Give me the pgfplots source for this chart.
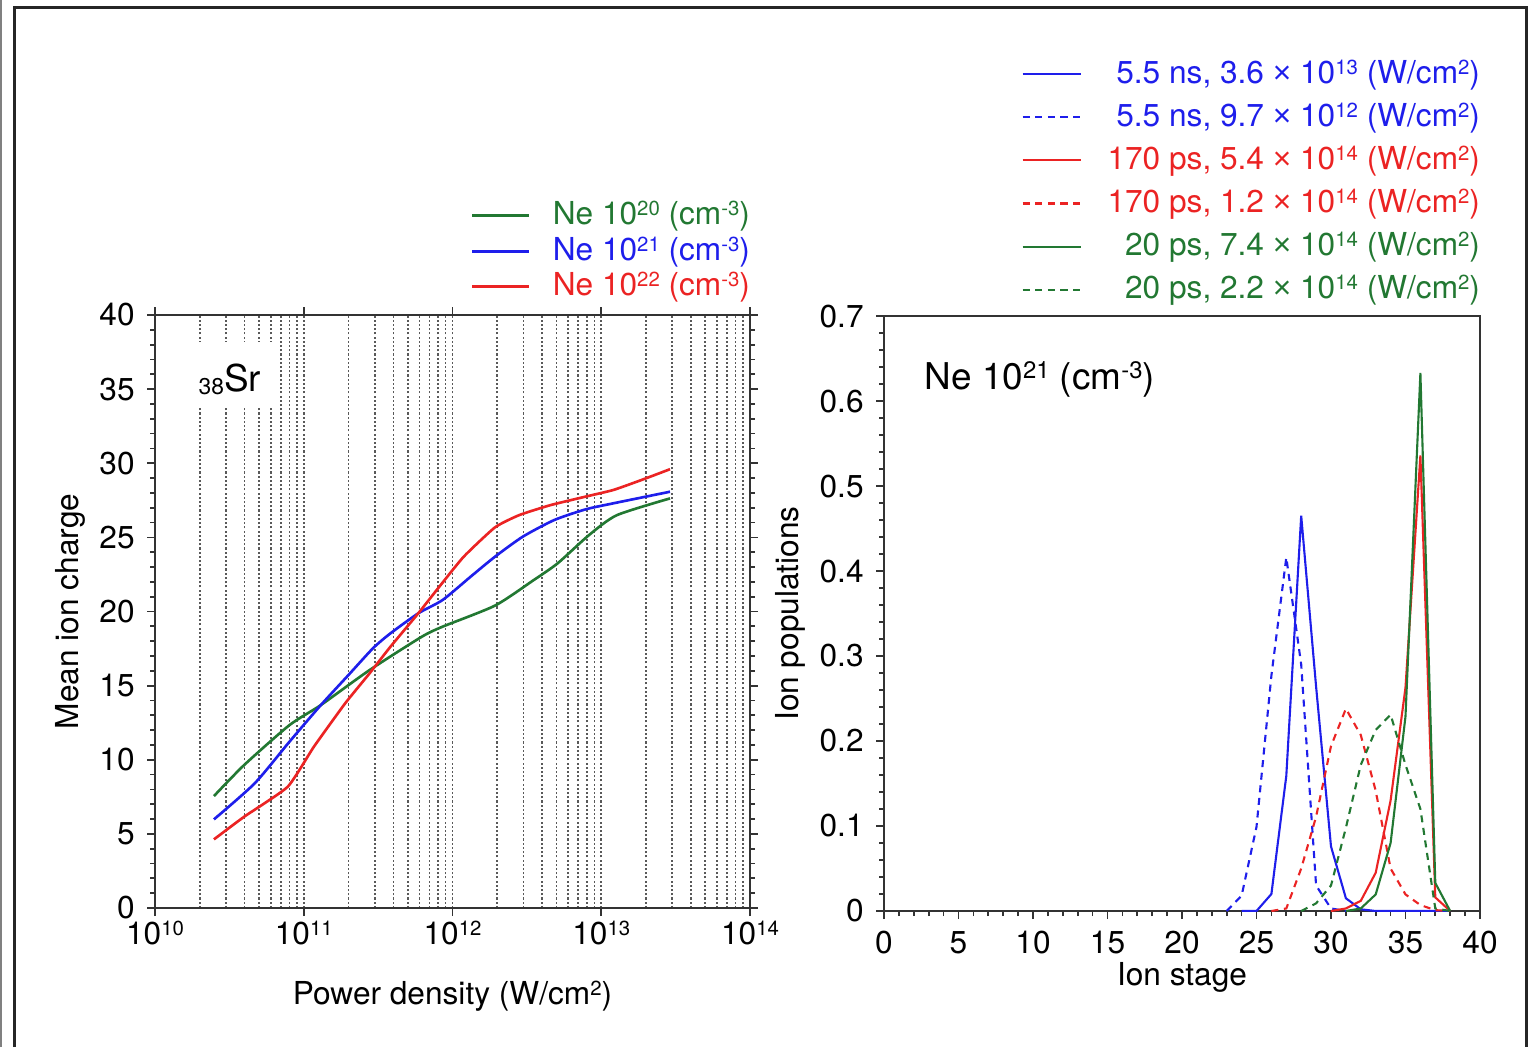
\documentclass[border=0pt]{standalone}
\usepackage{fontspec}
\setmainfont{TeX Gyre Heros}
\newfontfamily\lib{Liberation Sans}
\usepackage{pgfplots}
\pgfplotsset{compat=1.18}
\definecolor{cgreen}{RGB}{34,120,50}
\definecolor{cblue}{RGB}{30,30,235}
\definecolor{cred}{RGB}{235,35,35}
\newcommand{\sups}[1]{\raisebox{2.5pt}{\fontsize{5.8}{6}\selectfont #1}}
\newcommand{\supb}[1]{\raisebox{2.9pt}{\fontsize{6.8}{7}\selectfont #1}}
\newcommand{\tms}{{\lib ×}}
\begin{document}
\begin{tikzpicture}
\useasboundingbox (0,0) rectangle (153.3mm,104.7mm);
\draw[gray, line width=0.15mm] (0.1mm,0) -- (0.1mm,104.7mm);
\draw[black!85, line width=0.3mm] (1.45mm,0) -- (1.45mm,103.9mm) -- (152.65mm,103.9mm) -- (152.65mm,0);
\pgfplotsset{every axis/.append style={
  scale only axis, tick align=outside,
  font=\fontsize{9}{10.8}\selectfont,
  major tick length=0.8mm, minor tick length=0.5mm,
  /pgf/number format/assume math mode=true,
  axis line style={black!80, line width=0.6pt},
  every tick/.style={black!80, line width=0.5pt},
  tick label style={font=\fontsize{9}{10.8}\selectfont},
  label style={font=\fontsize{9}{10.8}\selectfont},
}}
% ---------------- left panel ----------------
\begin{axis}[at={(15.5mm,13.9mm)}, anchor=south west, width=59.5mm, height=59.3mm,
  xmode=log, xmin=1e10, xmax=1e14, ymin=0, ymax=40,
  xtick={1e10,1e11,1e12,1e13,1e14},
  xticklabels={10\sups{10},10\sups{11},10\sups{12},10\sups{13},10\sups{14}},
  xticklabel style={yshift=0.7mm},
  ytick={0,5,10,15,20,25,30,35,40}, minor y tick num=4,
  xminorgrids, minor x grid style={black!65, line width=0.45pt, dash pattern=on 0.6pt off 0.6pt},
  minor x tick style={draw=none},
  xlabel={Power density (W/cm\sups{2})}, ylabel={Mean ion charge},
  xlabel style={at={(axis description cs:0.5,-0.162)}, anchor=base},
  ylabel style={at={(axis description cs:-0.129,0.5)}, anchor=base},
  legend style={draw=none, fill=none, at={(1,1)}, anchor=south east, xshift=0mm, yshift=1.4mm,
    inner sep=0pt, outer sep=0pt, row sep=0.7mm, nodes={inner sep=0pt},
    font=\fontsize{9}{10.8}\selectfont,
    /tikz/every odd column/.append style={column sep=2.2mm}},
  legend cell align=left,
  legend image code/.code={\draw[#1] (0mm,0mm) -- (5.7mm,0mm);},
]
\fill[white] (axis description cs:0.0672,0.843) rectangle (axis description cs:0.205,0.954);
\node[anchor=base west, inner sep=0pt, font=\fontsize{10.5}{12}\selectfont] at (axis description cs:0.0723,0.8718) {\raisebox{-0.3mm}{\fontsize{6.5}{7}\selectfont 38}Sr};
\addplot[cgreen, line width=0.75pt, smooth, tension=0.4] coordinates {
(2.49e10,7.55) (3.98e10,9.65) (8.02e10,12.34) (1.303e11,13.69) (2.77e11,16.05)
(6.22e11,18.3) (8.59e11,18.98) (1.932e12,20.4) (3.49e12,22.1) (5.09e12,23.25)
(8.28e12,25.16) (1.274e13,26.5) (2.9e13,27.63)};
\addlegendentry{\textcolor{cgreen}{Ne 10\sups{20} (cm\sups{-3})}}
\addplot[cblue, line width=0.75pt, smooth, tension=0.4] coordinates {
(2.49e10,5.98) (4.68e10,8.41) (8.02e10,11.22) (1.303e11,13.69) (2.0e11,15.72)
(2.92e11,17.52) (3.83e11,18.53) (5.89e11,19.88) (8.59e11,20.78) (1.324e12,22.35)
(1.932e12,23.7) (2.97e12,25.05) (4.83e12,26.17) (7.85e12,26.89) (1.208e13,27.3) (2.9e13,28.08)};
\addlegendentry{\textcolor{cblue}{Ne 10\sups{21} (cm\sups{-3})}}
\addplot[cred, line width=0.75pt, smooth, tension=0.3] coordinates {
(2.49e10,4.63) (3.98e10,6.16) (7.8e10,8.18) (1.17e11,10.88) (1.9e11,13.81)
(2.77e11,15.83) (3.83e11,17.63) (5.89e11,19.88) (8.15e11,21.67) (1.19e12,23.7)
(1.932e12,25.68) (2.82e12,26.51) (4.57e12,27.18) (7.85e12,27.75) (1.208e13,28.2)
(1.862e13,28.87) (2.9e13,29.6)};
\addlegendentry{\textcolor{cred}{Ne 10\sups{22} (cm\sups{-3})}}
\end{axis}
% ---------------- right panel ----------------
\begin{axis}[at={(88.4mm,13.6mm)}, anchor=south west, width=59.6mm, height=59.5mm,
  xmin=0, xmax=40, ymin=0, ymax=0.7,
  xtick={0,5,10,15,20,25,30,35,40}, minor x tick num=4,
  ytick={0,0.1,0.2,0.3,0.4,0.5,0.6,0.7}, minor y tick num=4,
  xtick pos=bottom, ytick pos=left,
  xlabel={Ion stage}, ylabel={Ion populations},
  xlabel style={at={(axis description cs:0.5,-0.126)}, anchor=base},
  ylabel style={at={(axis description cs:-0.144,0.5)}, anchor=base},
  legend style={draw=none, fill=none, at={(1,1)}, anchor=south east, yshift=1.2mm,
    inner sep=0pt, outer sep=0pt, row sep=1.46mm, nodes={inner sep=0pt},
    font=\fontsize{9}{10.8}\selectfont,
    /tikz/every odd column/.append style={column sep=2.6mm}},
  legend cell align=right,
  legend image code/.code={\draw[#1] (0mm,0mm) -- (5.8mm,0mm);},
]
\node[anchor=base west, inner sep=0pt, font=\fontsize{10.5}{12}\selectfont] at (axis cs:2.68,0.614) {Ne 10\supb{21} (cm\supb{-3})};
\addplot[cblue, line width=0.6pt] coordinates {
(24,0) (25,0) (26,0.02) (27,0.159) (28,0.465) (29,0.264) (30,0.076) (31,0.015) (32,0.002) (33,0) (38,0)};
\addlegendentry{\textcolor{cblue}{5.5 ns, 3.6 \tms{} 10\sups{13} (W/cm\sups{2})}}
\addplot[cblue, line width=0.6pt, dash pattern=on 2pt off 1.6pt] coordinates {
(23,0) (24,0.018) (25,0.099) (26,0.277) (27,0.416) (28,0.29) (29,0.03) (30,0.003) (31,0)};
\addlegendentry{\textcolor{cblue}{5.5 ns, 9.7 \tms{} 10\sups{12} (W/cm\sups{2})}}
\addplot[cred, line width=0.6pt] coordinates {
(30,0) (31,0.003) (32,0.012) (33,0.045) (34,0.13) (35,0.263) (36,0.536) (37,0.016) (38,0)};
\addlegendentry{\textcolor{cred}{170 ps, 5.4 \tms{} 10\sups{14} (W/cm\sups{2})}}
\addplot[cred, line width=0.6pt, dash pattern=on 2pt off 1.6pt] coordinates {
(26,0) (27,0.003) (28,0.05) (29,0.111) (30,0.194) (31,0.238) (32,0.207) (33,0.1415) (34,0.05) (35,0.0195) (36,0.007) (37,0.001) (38,0)};
\addlegendentry{\textcolor{cred}{170 ps, 1.2 \tms{} 10\sups{14} (W/cm\sups{2})}}
\addplot[cgreen, line width=0.6pt] coordinates {
(31,0) (32,0.003) (33,0.0195) (34,0.08) (35,0.229) (36,0.633) (37,0.033) (38,0)};
\addlegendentry{\textcolor{cgreen}{20 ps, 7.4 \tms{} 10\sups{14} (W/cm\sups{2})}}
\addplot[cgreen, line width=0.6pt, dash pattern=on 2pt off 1.6pt] coordinates {
(28,0) (29,0.009) (30,0.03) (31,0.098) (32,0.172) (33,0.213) (34,0.231) (35,0.172) (36,0.12) (37,0.003) (38,0)};
\addlegendentry{\textcolor{cgreen}{20 ps, 2.2 \tms{} 10\sups{14} (W/cm\sups{2})}}
\end{axis}
\end{tikzpicture}
\end{document}
